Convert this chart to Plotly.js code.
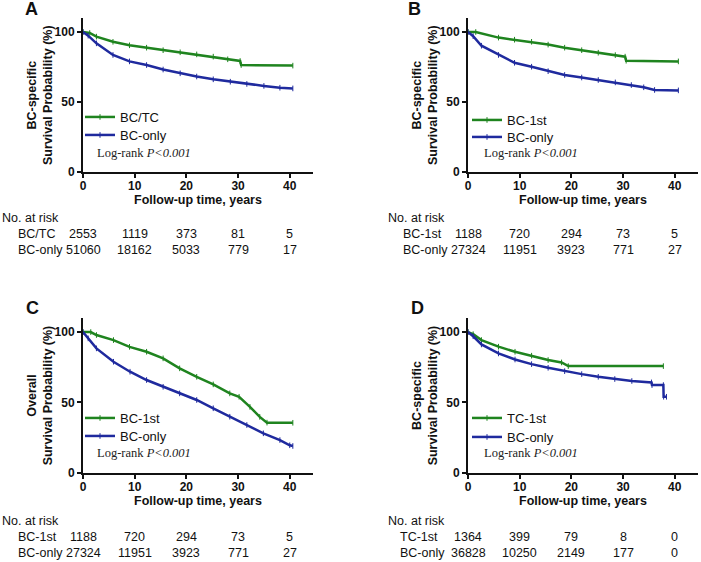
<!DOCTYPE html>
<html>
<head>
<meta charset="utf-8">
<script src="https://cdn.plot.ly/plotly-3.0.1.min.js"></script>
<style>
  html, body { margin: 0; padding: 0; background: #fff; }
  #chart { width: 701px; height: 562px; }
</style>
</head>
<body>
<div id="chart"></div>
<script>
/* Kaplan-Meier curves, four panels, each with a number-at-risk table */

// --- values (years, survival %) ---
const aBcTcYears   = [0, 1.3, 2.6, 5.8, 9, 12.3, 15.5, 18.8, 22, 25.2, 28, 30.4, 30.6, 40.6];
const aBcTcSurv    = [100, 99.3, 96.7, 93, 90.5, 88.8, 87, 85.5, 84, 82.4, 80.5, 79.3, 76.4, 76];
const aBcOnlyYears = [0, 1, 2.6, 5.8, 9, 12.3, 15.5, 18.8, 22, 25.2, 28.5, 31.7, 35, 38.1, 40.6];
const aBcOnlySurv  = [100, 97.4, 91.9, 83.6, 79, 76.4, 73.2, 70.5, 68.2, 66.2, 64.5, 62.9, 61.5, 60.2, 59.7];

const bBc1stYears  = [0, 1.5, 5.9, 9, 12.3, 15.5, 18.7, 22, 25.2, 28.5, 30.4, 30.6, 40.7];
const bBc1stSurv   = [100, 100, 96, 94.5, 93, 91, 88.8, 87, 85.2, 83.5, 82.4, 79.5, 79];
const bBcOnlyYears = [0, 1, 2.6, 5.9, 9, 12.3, 15.5, 18.7, 22, 25.2, 28.5, 31.6, 34, 36.1, 40.7];
const bBcOnlySurv  = [100, 97, 90.2, 83.6, 78, 75.2, 72, 69.3, 67.5, 65.7, 64, 62.1, 60.5, 58.6, 58.3];

const cBc1stYears  = [0, 1.5, 2.6, 5.9, 9, 12.3, 15.5, 18.7, 22, 25.2, 28.4, 30.2, 32.3, 34.2, 35.6, 40.6];
const cBc1stSurv   = [100, 100, 97.9, 94.3, 89.5, 86, 81.3, 74.2, 68.2, 62.8, 56.4, 54, 46.8, 39.7, 35.6, 35.5];
const cBcOnlyYears = [0, 1, 2.6, 5.9, 9.1, 12.3, 15.5, 18.7, 22, 25.2, 28.4, 31.7, 34.9, 38.1, 40, 40.6];
const cBcOnlySurv  = [100, 95.5, 88.4, 78.9, 71.8, 65.9, 61.1, 56.4, 51.7, 45.8, 39.8, 33.9, 28, 23.2, 19.5, 19];

const dTc1stYears  = [0, 1, 2.6, 5.9, 9.1, 12.3, 15.5, 18.1, 19.4, 37.8];
const dTc1stSurv   = [100, 98.5, 94.3, 89.6, 86, 83.2, 80.1, 78.4, 75.8, 75.8];
const dBcOnlyYears = [0, 1, 2.6, 5.9, 9.1, 12.3, 15.5, 18.7, 22, 25.2, 28.4, 31.7, 35.5, 35.6, 37.8, 37.85, 38.4];
const dBcOnlySurv  = [100, 97, 91.2, 84.8, 80.5, 77.2, 74.6, 72.2, 70.1, 68.2, 66.6, 65.2, 64.2, 62.3, 62.3, 54, 54];

// --- number at risk ---
const riskYears   = [0, 10, 20, 30, 40];
const aRiskBcTc   = [2553, 1119, 373, 81, 5];
const aRiskBcOnly = [51060, 18162, 5033, 779, 17];
const bRiskBc1st  = [1188, 720, 294, 73, 5];
const bRiskBcOnly = [27324, 11951, 3923, 771, 27];
const cRiskBc1st  = [1188, 720, 294, 73, 5];
const cRiskBcOnly = [27324, 11951, 3923, 771, 27];
const dRiskTc1st  = [1364, 399, 79, 8, 0];
const dRiskBcOnly = [36828, 10250, 2149, 177, 0];

const xTicks = [0, 10, 20, 30, 40];
const yTicks = [0, 50, 100];

const GREEN = '#1f841f';
const BLUE  = '#1f2a9e';
const SANS  = 'Liberation Sans, Arial, sans-serif';
const SERIF = 'Liberation Serif, Times New Roman, serif';

// pixel -> paper helpers (margins are zero)
const W = 701, H = 562;
const fx = p => p / W;
const fy = p => 1 - p / H;

const panels = [
  { letter: 'A', box: [83, 313, 18, 172], yTitle: 'BC-specific<br>Survival Probability (%)',
    series: [['BC/TC', aBcTcYears, aBcTcSurv, GREEN], ['BC-only', aBcOnlyYears, aBcOnlySurv, BLUE]],
    risk: [['BC/TC', aRiskBcTc], ['BC-only', aRiskBcOnly]],
    lab: [31, 9], leg: [80, [117, 135]], logrank: [95, 153], tbl: [0, 218, 16, [234, 250]] },
  { letter: 'B', box: [468, 698, 18, 172], yTitle: 'BC-specific<br>Survival Probability (%)',
    series: [['BC-1st', bBc1stYears, bBc1stSurv, GREEN], ['BC-only', bBcOnlyYears, bBcOnlySurv, BLUE]],
    risk: [['BC-1st', bRiskBc1st], ['BC-only', bRiskBcOnly]],
    lab: [414, 9], leg: [467, [120, 137]], logrank: [482, 153], tbl: [386, 218, 401, [234, 250]] },
  { letter: 'C', box: [83, 313, 318, 472.7], yTitle: 'Overall<br>Survival Probability (%)',
    series: [['BC-1st', cBc1stYears, cBc1stSurv, GREEN], ['BC-only', cBcOnlyYears, cBcOnlySurv, BLUE]],
    risk: [['BC-1st', cRiskBc1st], ['BC-only', cRiskBcOnly]],
    lab: [32, 308], leg: [80, [418, 436]], logrank: [95, 453], tbl: [0, 521, 16, [537, 553]] },
  { letter: 'D', box: [468, 698, 318, 472.7], yTitle: 'BC-specific<br>Survival Probability (%)',
    series: [['TC-1st', dTc1stYears, dTc1stSurv, GREEN], ['BC-only', dBcOnlyYears, dBcOnlySurv, BLUE]],
    risk: [['TC-1st', dRiskTc1st], ['BC-only', dRiskBcOnly]],
    lab: [417, 308], leg: [467, [418, 437]], logrank: [482, 453], tbl: [386, 521, 398, [537, 553]] }
];

const data = [];
const annotations = [];
const layout = {
  width: W, height: H,
  margin: { l: 0, r: 0, t: 0, b: 0 },
  paper_bgcolor: '#fff', plot_bgcolor: '#fff',
  font: { family: SANS, color: '#111' },
  showlegend: true,
  annotations
};

let legendNo = 0;

panels.forEach((p, i) => {
  const n = i === 0 ? '' : String(i + 1);
  const [l, r, t, b] = p.box;

  layout['xaxis' + n] = {
    domain: [fx(l), fx(r)], range: [0, 44.5], anchor: 'y' + n,
    showline: true, linecolor: '#111', linewidth: 2,
    showgrid: false, zeroline: false, fixedrange: true,
    ticks: 'outside', ticklen: 4, tickwidth: 2, tickcolor: '#111', ticklabelstandoff: -2,
    tickvals: xTicks, tickfont: { family: SANS, size: 12, weight: 'bold', color: '#111' },
    title: { text: 'Follow-up time, years', standoff: 2,
             font: { family: SANS, size: 12.5, weight: 'bold', color: '#111' } }
  };
  layout['yaxis' + n] = {
    domain: [fy(b), fy(t)], range: [0, 110], anchor: 'x' + n,
    showline: true, linecolor: '#111', linewidth: 2,
    showgrid: false, zeroline: false, fixedrange: true,
    ticks: 'outside', ticklen: 4, tickwidth: 2, tickcolor: '#111',
    tickvals: yTicks, tickfont: { family: SANS, size: 12, weight: 'bold', color: '#111' }
  };

  // y title, two lines, placed beside the axis
  annotations.push({ xref: 'paper', yref: 'paper', x: fx(l - 43), y: fy((t + b) / 2),
    text: p.yTitle, textangle: -90, showarrow: false, xanchor: 'center', yanchor: 'middle',
    font: { family: SANS, size: 12.5, weight: 'bold', color: '#111' } });

  p.series.forEach(([name, xs, ys, color], k) => {
    legendNo += 1;
    const legKey = legendNo === 1 ? 'legend' : 'legend' + legendNo;
    layout[legKey] = {
      visible: true,
      x: fx(p.leg[0]), y: fy(p.leg[1][k]), xanchor: 'left', yanchor: 'middle',
      bgcolor: 'rgba(0,0,0,0)', borderwidth: 0, itemwidth: 30,
      font: { family: SANS, size: 13, color: '#111' }
    };
    data.push({
      type: 'scatter', mode: 'lines+markers', name, x: xs, y: ys,
      xaxis: 'x' + n, yaxis: 'y' + n, legend: legKey, showlegend: true,
      line: { color, width: 2.5 },
      marker: { symbol: 'line-ns-open', size: 4, color, line: { color, width: 1 } },
      cliponaxis: false, hoverinfo: 'x+y+name'
    });
  });

  // panel letter
  annotations.push({ xref: 'paper', yref: 'paper', x: fx(p.lab[0]), y: fy(p.lab[1]),
    text: p.letter, showarrow: false, xanchor: 'center', yanchor: 'middle',
    font: { family: SANS, size: 18, weight: 'bold', color: '#111' } });

  // log-rank note
  annotations.push({ xref: 'paper', yref: 'paper', x: fx(p.logrank[0]), y: fy(p.logrank[1]),
    text: 'Log-rank <i>P&lt;0.001</i>', showarrow: false, xanchor: 'left', yanchor: 'middle',
    font: { family: SERIF, size: 12.5, color: '#222' } });

  // number at risk table
  const [tx, ty, rx, rowYs] = p.tbl;
  annotations.push({ xref: 'paper', yref: 'paper', x: fx(tx), y: fy(ty),
    text: 'No. at risk', showarrow: false, xanchor: 'left', yanchor: 'middle',
    font: { family: SANS, size: 12.5, color: '#111' } });
  p.risk.forEach(([label, counts], k) => {
    annotations.push({ xref: 'paper', yref: 'paper', x: fx(rx), y: fy(rowYs[k]),
      text: label, showarrow: false, xanchor: 'left', yanchor: 'middle',
      font: { family: SANS, size: 12.5, color: '#111' } });
    counts.forEach((c, j) => {
      annotations.push({ xref: 'x' + n, yref: 'paper', x: riskYears[j], y: fy(rowYs[k]),
        text: String(c), showarrow: false, xanchor: 'center', yanchor: 'middle',
        font: { family: SANS, size: 12.5, color: '#111' } });
    });
  });
});

Plotly.newPlot('chart', data, layout, { displayModeBar: false, staticPlot: true });
</script>
</body>
</html>
